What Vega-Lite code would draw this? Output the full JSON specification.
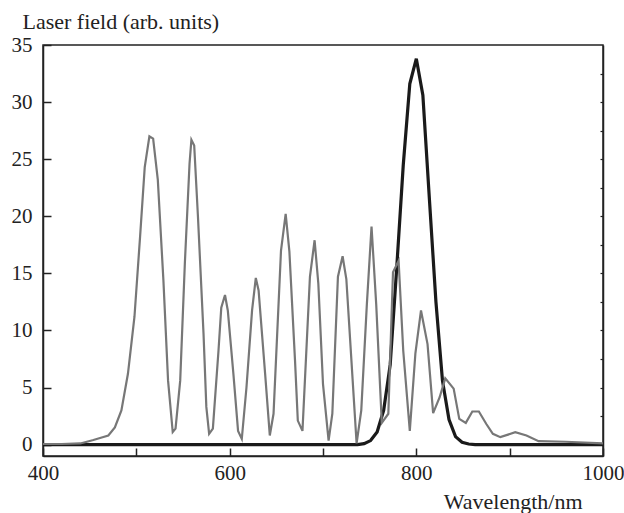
{
  "$schema": "https://vega.github.io/schema/vega-lite/v6.json",
  "width": 560,
  "height": 411,
  "autosize": "none",
  "padding": {"left": 43, "top": 45, "right": 21, "bottom": 57},
  "background": "white",
  "config": {
    "view": {"stroke": "#222222", "strokeWidth": 1.5},
    "font": "Liberation Serif",
    "axis": {"grid": false}
  },
  "datasets": {
    "pulse": [
      {"wl": 400, "v": 0}, {"wl": 737, "v": 0}, {"wl": 744, "v": 0.08}, {"wl": 751, "v": 0.35},
      {"wl": 758, "v": 1.1}, {"wl": 765, "v": 3.0}, {"wl": 772, "v": 7.0}, {"wl": 779, "v": 15.5},
      {"wl": 786, "v": 24.5}, {"wl": 793, "v": 31.6}, {"wl": 800, "v": 33.8}, {"wl": 807, "v": 30.6},
      {"wl": 814, "v": 21.5}, {"wl": 821, "v": 12.5}, {"wl": 828, "v": 5.6}, {"wl": 835, "v": 2.2},
      {"wl": 842, "v": 0.7}, {"wl": 849, "v": 0.2}, {"wl": 856, "v": 0.05}, {"wl": 863, "v": 0},
      {"wl": 1000, "v": 0}
    ],
    "shaped": [
      {"wl": 400, "v": 0.05}, {"wl": 420, "v": 0.05}, {"wl": 440, "v": 0.1}, {"wl": 447, "v": 0.25},
      {"wl": 454, "v": 0.4}, {"wl": 462, "v": 0.6}, {"wl": 470, "v": 0.8}, {"wl": 477, "v": 1.5},
      {"wl": 484, "v": 3.0}, {"wl": 491, "v": 6.2}, {"wl": 498, "v": 11.2}, {"wl": 504, "v": 18.2},
      {"wl": 509, "v": 24.3}, {"wl": 514, "v": 27.0}, {"wl": 518, "v": 26.8}, {"wl": 523, "v": 23.2},
      {"wl": 529, "v": 14.4}, {"wl": 534, "v": 5.6}, {"wl": 539, "v": 1.1}, {"wl": 542, "v": 1.4},
      {"wl": 547, "v": 5.6}, {"wl": 552, "v": 15.9}, {"wl": 557, "v": 24.6}, {"wl": 559, "v": 26.7},
      {"wl": 562, "v": 26.2}, {"wl": 566, "v": 20.0}, {"wl": 572, "v": 9.7}, {"wl": 575, "v": 3.3},
      {"wl": 578, "v": 0.94}, {"wl": 582, "v": 1.4}, {"wl": 588, "v": 8.2}, {"wl": 591, "v": 12.0},
      {"wl": 595, "v": 13.1}, {"wl": 598, "v": 11.75}, {"wl": 604, "v": 6.2}, {"wl": 609, "v": 1.2},
      {"wl": 613, "v": 0.5}, {"wl": 618, "v": 5.0}, {"wl": 624, "v": 11.75}, {"wl": 628, "v": 14.6},
      {"wl": 631, "v": 13.5}, {"wl": 638, "v": 6.2}, {"wl": 643, "v": 0.8}, {"wl": 647, "v": 2.7},
      {"wl": 655, "v": 17.0}, {"wl": 660, "v": 20.2}, {"wl": 664, "v": 16.9}, {"wl": 670, "v": 7.4},
      {"wl": 673, "v": 2.1}, {"wl": 678, "v": 1.2}, {"wl": 686, "v": 14.7}, {"wl": 691, "v": 17.9},
      {"wl": 695, "v": 14.1}, {"wl": 700, "v": 5.3}, {"wl": 706, "v": 0.35}, {"wl": 710, "v": 2.7},
      {"wl": 716, "v": 14.7}, {"wl": 721, "v": 16.5}, {"wl": 725, "v": 14.5}, {"wl": 736, "v": 0.1},
      {"wl": 741, "v": 3.0}, {"wl": 747, "v": 12.3}, {"wl": 752, "v": 19.1}, {"wl": 757, "v": 12.3},
      {"wl": 763, "v": 1.9}, {"wl": 770, "v": 2.7}, {"wl": 775, "v": 15.1}, {"wl": 781, "v": 16.1},
      {"wl": 786, "v": 8.2}, {"wl": 793, "v": 1.2}, {"wl": 799, "v": 8.0}, {"wl": 805, "v": 11.75},
      {"wl": 812, "v": 8.8}, {"wl": 818, "v": 2.75}, {"wl": 825, "v": 4.15}, {"wl": 831, "v": 5.8},
      {"wl": 840, "v": 4.9}, {"wl": 846, "v": 2.25}, {"wl": 853, "v": 1.9}, {"wl": 860, "v": 2.9},
      {"wl": 867, "v": 2.9}, {"wl": 875, "v": 1.8}, {"wl": 882, "v": 0.94}, {"wl": 890, "v": 0.65},
      {"wl": 906, "v": 1.08}, {"wl": 918, "v": 0.8}, {"wl": 931, "v": 0.3}, {"wl": 960, "v": 0.25},
      {"wl": 1000, "v": 0.1}
    ]
  },
  "layer": [
    {
      "data": {"name": "pulse"},
      "mark": {"type": "line", "color": "#1a1a1a", "strokeWidth": 3.2},
      "encoding": {
        "x": {
          "field": "wl", "type": "quantitative",
          "scale": {"domain": [400, 1000], "nice": false, "zero": false},
          "axis": {
            "values": [400, 500, 600, 700, 800, 900, 1000],
            "format": "d",
            "labelExpr": "datum.value % 200 == 0 ? datum.label : ''",
            "labelOverlap": false,
            "labelFlush": false,
            "tickSize": -8, "tickWidth": 1.5, "tickColor": "#222222",
            "domainColor": "#222222", "domainWidth": 1.5,
            "labelFontSize": 21, "labelColor": "#222222", "labelPadding": 14,
            "title": "Wavelength/nm", "titleFontSize": 22, "titleFontWeight": "normal",
            "titleColor": "#222222", "titleAlign": "right", "titleBaseline": "alphabetic",
            "titleX": 539, "titleY": 52
          }
        },
        "y": {
          "field": "v", "type": "quantitative",
          "scale": {"domain": [-1, 35], "nice": false, "zero": false},
          "axis": {
            "values": [0, 5, 10, 15, 20, 25, 30, 35],
            "tickSize": -8, "tickWidth": 1.5, "tickColor": "#222222",
            "domainColor": "#222222", "domainWidth": 1.5,
            "labelFontSize": 21, "labelColor": "#222222", "labelPadding": 19,
            "title": "Laser field (arb. units)", "titleFontSize": 22, "titleFontWeight": "normal",
            "titleColor": "#222222", "titleAngle": 0, "titleAlign": "left", "titleBaseline": "alphabetic",
            "titleX": -21, "titleY": -17
          }
        }
      }
    },
    {
      "data": {"name": "shaped"},
      "mark": {"type": "line", "color": "#777777", "strokeWidth": 2.2},
      "encoding": {
        "x": {"field": "wl", "type": "quantitative"},
        "y": {
          "field": "v", "type": "quantitative",
          "axis": {
            "orient": "right",
            "values": [2.5, 5, 7.5, 10, 12.5, 15, 17.5, 20, 22.5, 25, 27.5, 30, 32.5],
            "labels": false, "title": null,
            "tickSize": -3, "tickWidth": 1.2, "tickColor": "#222222",
            "domainColor": "#222222", "domainWidth": 1.5
          }
        }
      }
    }
  ],
  "resolve": {"axis": {"y": "independent"}}
}
